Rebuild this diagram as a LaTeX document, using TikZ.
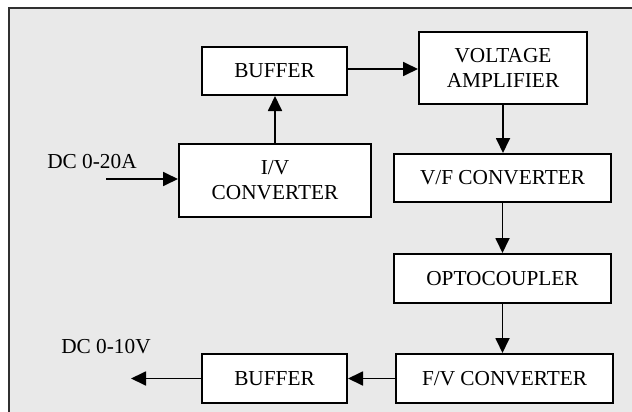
\documentclass[tikz,border=0pt]{standalone}
\usepackage{fontspec}
\setmainfont{Liberation Serif}
\usetikzlibrary{arrows.meta}
\definecolor{panelgray}{HTML}{E9E9E9}
\definecolor{framegray}{HTML}{303030}
\tikzset{
  blockbox/.style={draw=black, line width=2pt, fill=white, minimum width=#1, inner sep=0pt, align=center,
    font=\fontsize{21.3}{25}\selectfont},
  flowarrow/.style={line width=1.8pt, -{Triangle[length=15pt,width=14pt]}},
  extlabel/.style={font=\fontsize{21.3}{25}\selectfont, inner sep=0pt}
}
\begin{document}
\begin{tikzpicture}[x=1pt,y=-1pt]
\useasboundingbox (0,0) rectangle (632,412);
\clip (0,0) rectangle (632,412);
\draw[framegray, line width=1.8pt, fill=panelgray] (9,8) rectangle (645,425);
\node[blockbox=145pt, minimum height=48pt] (buf1) at (274.5,71) {BUFFER};
\node[blockbox=168pt, minimum height=72pt] (va) at (503,68) {VOLTAGE\\AMPLIFIER};
\node[blockbox=192pt, minimum height=73pt] (iv) at (275,180.5) {I/V\\CONVERTER};
\node[blockbox=217pt, minimum height=48pt] (vf) at (502.5,178) {V/F CONVERTER};
\node[blockbox=217pt, minimum height=49pt] (opto) at (502.5,278.5) {OPTOCOUPLER};
\node[blockbox=217pt, minimum height=49pt] (fv) at (504.5,378.5) {F/V CONVERTER};
\node[blockbox=145pt, minimum height=49pt] (buf2) at (274.5,378.5) {BUFFER};
\node[extlabel] (inlbl) at (92,162) {DC 0-20A};
\node[extlabel] (outlbl) at (106,347) {DC 0-10V};
\coordinate (in1) at (106,179);
\coordinate (out1) at (131,378.5);
\draw[flowarrow] (in1) -- (in1 -| iv.west);
\draw[flowarrow] (iv.north) -- (iv.north |- buf1.south);
\draw[flowarrow] ([yshift=2pt]buf1.east) -- ([yshift=2pt]buf1.east -| va.west);
\draw[flowarrow] (va.south) -- (va.south |- vf.north);
\draw[flowarrow] (vf.south) -- (opto.north);
\draw[flowarrow] (opto.south) -- (opto.south |- fv.north);
\draw[flowarrow] (fv.west) -- (buf2.east);
\draw[flowarrow] (buf2.west) -- (out1);
\end{tikzpicture}
\end{document}
